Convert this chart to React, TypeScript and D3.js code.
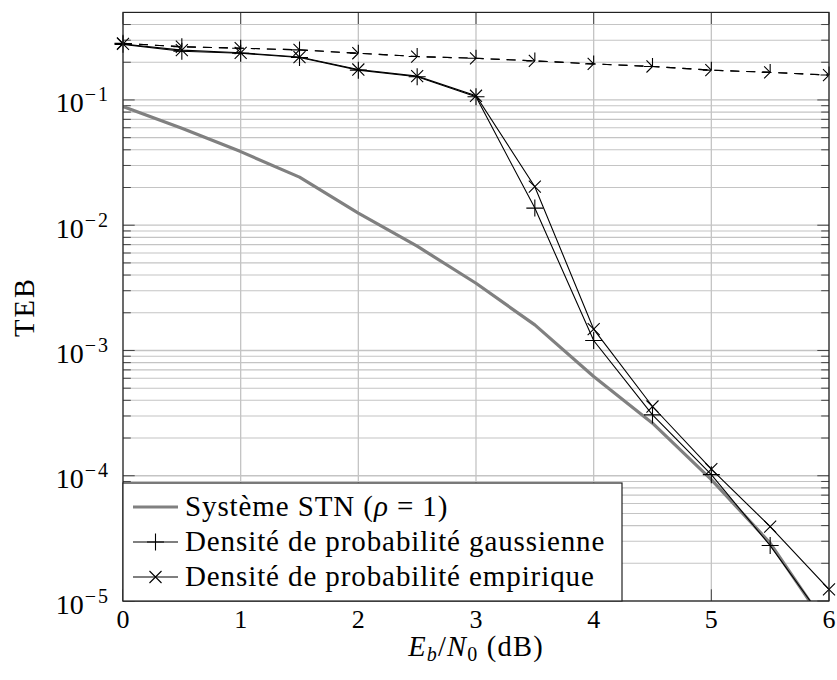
import React from "react";
import * as d3 from "d3";

// ---- data ----
const ebn0 = [0, 0.5, 1, 1.5, 2, 2.5, 3, 3.5, 4, 4.5, 5, 5.5, 6];
const stnRho1 = [0.0885, 0.0594, 0.0387, 0.0242, 0.0125, 0.0068, 0.00344, 0.0016, 0.00062, 0.000263, 0.000093, 0.000029, 0.0000059];
const gaussPdf = [0.278, 0.245, 0.236, 0.218, 0.173, 0.153, 0.106, 0.0137, 0.0012, 0.000306, 0.000102, 0.0000277, 0.0000062];
const empiricalPdf = [0.28, 0.25, 0.238, 0.22, 0.175, 0.155, 0.108, 0.0203, 0.00148, 0.000357, 0.000113, 0.0000393, 0.0000124];
const gaussPdfDashed = [0.283, 0.266, 0.259, 0.251, 0.236, 0.222, 0.215, 0.205, 0.194, 0.185, 0.173, 0.166, 0.158];
const empiricalPdfDashed = [0.283, 0.266, 0.259, 0.251, 0.236, 0.222, 0.215, 0.205, 0.194, 0.185, 0.173, 0.166, 0.158];
const xTicks = [0, 1, 2, 3, 4, 5, 6];
const yDecadeExps = [-5, -4, -3, -2, -1];
const legendLabels = ["Système STN (", "Densité de probabilité gaussienne", "Densité de probabilité empirique"];

const W = 837;
const H = 680;
const X0 = 123;
const X1 = 829;
const Y0 = 601;
const Y1 = 12.4;
const FONT = '"Liberation Serif", "DejaVu Serif", serif';
const R = 8.5;

const plusPath = `M${-R},0H${R}M0,${-R}V${R}`;
const d = R * Math.SQRT1_2;
const crossPath = `M${-d},${-d}L${d},${d}M${-d},${d}L${d},${-d}`;

export default function App() {
  const x = d3.scaleLinear().domain([0, 6]).range([X0, X1]);
  const y = d3.scaleLog().domain([1e-5, 0.5]).range([Y0, Y1]);
  const lineGen = (vals: number[]) =>
    d3
      .line<number>()
      .x((_, i) => x(ebn0[i]))
      .y((v) => y(v))(vals) as string;

  const majorY = yDecadeExps.map((e) => Math.pow(10, e));
  const minorY: number[] = [];
  yDecadeExps.forEach((e) => {
    for (let m = 2; m <= 9; m++) {
      const v = m * Math.pow(10, e);
      if (v < 0.5 * 0.999) minorY.push(v);
    }
  });

  const inRange = (v: number) => v >= 1e-5 * 0.999 && v <= 0.5 * 1.001;

  const markers = (vals: number[], path: string, dash?: string) =>
    vals.map((v, i) =>
      inRange(v) ? (
        <path
          key={i}
          d={path}
          transform={`translate(${x(ebn0[i])},${y(v)})`}
          fill="none"
          stroke="#000"
          strokeWidth={1.1}
          strokeDasharray={dash}
        />
      ) : null
    );

  const majLen = 11.7;
  const minLen = 7.8;
  const dash = "9,7";
  const markDash = "8.5,8.5";

  const legX = X0;
  const legY = 483;
  const legW = 622 - X0;
  const legH = Y0 - legY;
  const rowY = [507, 542, 577];

  return (
    <svg
      width={W}
      height={H}
      style={{ position: "absolute", left: 0, top: 0, background: "#fff", fontFamily: FONT }}
    >
      <defs>
        <clipPath id="plotClip">
          <rect x={X0} y={Y1} width={X1 - X0} height={Y0 - Y1} />
        </clipPath>
      </defs>
      <rect x={0} y={0} width={W} height={H} fill="#fff" />

      {/* grid */}
      <g stroke="#c4c4c4" strokeWidth={1.1}>
        {minorY.map((v, i) => (
          <line key={"mn" + i} x1={X0} x2={X1} y1={y(v)} y2={y(v)} />
        ))}
        {majorY.map((v, i) => (
          <line key={"mj" + i} x1={X0} x2={X1} y1={y(v)} y2={y(v)} strokeWidth={1.3} />
        ))}
        {xTicks.map((t) => (
          <line key={"vx" + t} x1={x(t)} x2={x(t)} y1={Y1} y2={Y0} strokeWidth={1.3} />
        ))}
      </g>

      {/* ticks */}
      <g stroke="#444" strokeWidth={1}>
        {minorY.map((v, i) => (
          <g key={"tm" + i}>
            <line x1={X0} x2={X0 + minLen} y1={y(v)} y2={y(v)} />
            <line x1={X1} x2={X1 - minLen} y1={y(v)} y2={y(v)} />
          </g>
        ))}
        {majorY.map((v, i) => (
          <g key={"tM" + i}>
            <line x1={X0} x2={X0 + majLen} y1={y(v)} y2={y(v)} />
            <line x1={X1} x2={X1 - majLen} y1={y(v)} y2={y(v)} />
          </g>
        ))}
        {xTicks.map((t) => (
          <g key={"tx" + t}>
            <line x1={x(t)} x2={x(t)} y1={Y0} y2={Y0 - majLen} />
            <line x1={x(t)} x2={x(t)} y1={Y1} y2={Y1 + majLen} />
          </g>
        ))}
      </g>

      {/* data lines */}
      <g clipPath="url(#plotClip)" fill="none">
        <path d={lineGen(stnRho1)} stroke="#808080" strokeWidth={3.2} strokeLinejoin="round" />
        <path d={lineGen(gaussPdfDashed)} stroke="#000" strokeWidth={1.1} strokeDasharray={dash} />
        <path d={lineGen(empiricalPdfDashed)} stroke="#000" strokeWidth={1.1} strokeDasharray={dash} />
        <path d={lineGen(gaussPdf)} stroke="#000" strokeWidth={1.1} />
        <path d={lineGen(empiricalPdf)} stroke="#000" strokeWidth={1.1} />
      </g>
      <g>
        {markers(gaussPdfDashed, plusPath, markDash)}
        {markers(empiricalPdfDashed, crossPath, markDash)}
        {markers(gaussPdf, plusPath)}
        {markers(empiricalPdf, crossPath)}
      </g>

      {/* frame */}
      <rect x={X0} y={Y1} width={X1 - X0} height={Y0 - Y1} fill="none" stroke="#222" strokeWidth={1.2} />

      {/* legend */}
      <g>
        <rect x={legX} y={legY} width={legW} height={legH} fill="#fff" stroke="#222" strokeWidth={1.2} />
        <line x1={133} x2={178} y1={rowY[0]} y2={rowY[0]} stroke="#808080" strokeWidth={3.2} />
        <line x1={133} x2={178} y1={rowY[1]} y2={rowY[1]} stroke="#000" strokeWidth={1.1} />
        <path d={plusPath} transform={`translate(155.5,${rowY[1]})`} stroke="#000" strokeWidth={1.1} fill="none" />
        <line x1={133} x2={178} y1={rowY[2]} y2={rowY[2]} stroke="#000" strokeWidth={1.1} />
        <path d={crossPath} transform={`translate(155.5,${rowY[2]})`} stroke="#000" strokeWidth={1.1} fill="none" />
        <text x={185} y={rowY[0] + 9} fontSize={29} style={{ letterSpacing: "0.9px" }}>
          {legendLabels[0]}
          <tspan fontStyle="italic">ρ</tspan>
          {"\u00A0=\u00A01)"}
        </text>
        <text x={185} y={rowY[1] + 9} fontSize={29} style={{ letterSpacing: "0.9px" }}>
          {legendLabels[1]}
        </text>
        <text x={185} y={rowY[2] + 9} fontSize={29} style={{ letterSpacing: "0.9px" }}>
          {legendLabels[2]}
        </text>
      </g>

      {/* x tick labels */}
      <g fontSize={26} textAnchor="middle">
        {xTicks.map((t) => (
          <text key={"xl" + t} x={x(t)} y={628}>
            {String(t)}
          </text>
        ))}
      </g>

      {/* y tick labels */}
      <g fontSize={28} textAnchor="end">
        {yDecadeExps.map((e) => (
          <text key={"yl" + e} x={110} y={y(Math.pow(10, e)) + 12.5}>
            10
            <tspan dx={1} dy={-11} fontSize={20} style={{ letterSpacing: "2px" }}>
              {"\u2212" + Math.abs(e)}
            </tspan>
          </text>
        ))}
      </g>

      {/* axis labels */}
      <text x={476} y={656} textAnchor="middle" fontSize={28.5} style={{ letterSpacing: "1.2px" }}>
        <tspan fontStyle="italic">E</tspan>
        <tspan fontStyle="italic" fontSize={20} dy={5}>
          b
        </tspan>
        <tspan dy={-5}>/</tspan>
        <tspan fontStyle="italic">N</tspan>
        <tspan fontSize={20} dy={5}>
          0
        </tspan>
        <tspan dy={-5}>{"\u00A0(dB)"}</tspan>
      </text>
      <text
        transform={`translate(34,307) rotate(-90)`}
        textAnchor="middle"
        fontSize={28.5}
        style={{ letterSpacing: "2px" }}
      >
        TEB
      </text>
    </svg>
  );
}
